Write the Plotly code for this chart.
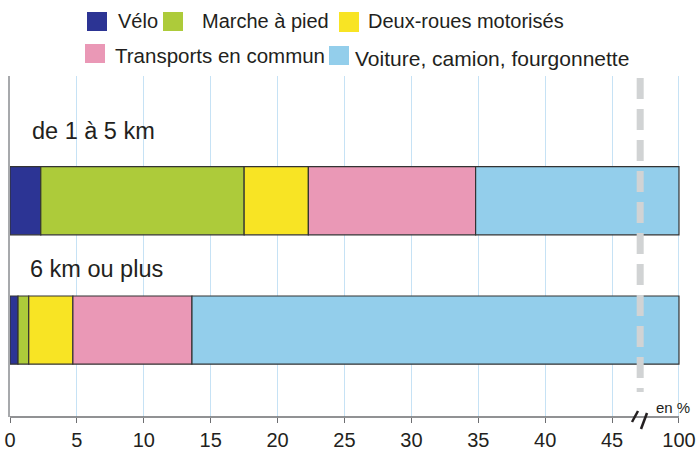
import plotly.graph_objects as go

# ---------------- data ----------------
categories = ["de 1 à 5 km", "6 km ou plus"]
modes = ["Vélo", "Marche à pied", "Deux-roues motorisés",
         "Transports en commun", "Voiture, camion, fourgonnette"]
velo = [2.3, 0.6]
marche = [15.2, 0.8]
deux_roues = [4.8, 3.3]
transports = [12.5, 8.9]
voiture = [65.2, 86.4]
tick_values = [0, 5, 10, 15, 20, 25, 30, 35, 40, 45, 100]
tick_labels = ["0", "5", "10", "15", "20", "25", "30", "35", "40", "45", "100"]

series = [velo, marche, deux_roues, transports, voiture]
colors = ["#2c3494", "#adcb3a", "#f8e424", "#ea98b6", "#93ceeb"]
row_pos = [1, 0]

# broken axis: linear up to BREAK, compressed beyond
BREAK = 47.5
def disp(v):
    return v if v <= BREAK else BREAK + (v - BREAK) * (2.5 / (100 - BREAK))

W, H = 697, 450
ML, MR, MT, MB = 10, 14, 76, 33
PW, PH = W - ML - MR, H - MT - MB
def px(x):
    return (x - ML) / PW
def py(y):
    return (H - MB - y) / PH

FONT = "Liberation Sans, Arial, Helvetica, sans-serif"
TXT = "#231f20"

fig = go.Figure()
cum = [0.0, 0.0]
for name, vals, col in zip(modes, series, colors):
    start = [disp(c) for c in cum]
    end = [disp(c + v) for c, v in zip(cum, vals)]
    fig.add_trace(go.Bar(
        y=row_pos, x=[e - s for s, e in zip(start, end)], base=start,
        orientation="h", name=name, width=0.527, showlegend=False,
        customdata=vals, hovertemplate=name + ": %{customdata} %<extra></extra>",
        marker=dict(color=col, line=dict(color="#333333", width=1.2)),
    ))
    cum = [c + v for c, v in zip(cum, vals)]

shapes = []
annotations = []

# x axis line (ends at the 100 tick)
shapes.append(dict(type="line", xref="x", yref="paper", x0=0, x1=disp(100),
                   y0=0, y1=0, line=dict(color="#6d6e71", width=1.5), layer="above"))
# dashed break line
shapes.append(dict(type="line", xref="x", yref="paper", x0=47.1, x1=47.1,
                   y0=py(78), y1=py(392),
                   line=dict(color="#d1d3d4", width=7, dash="21px,10px"), layer="above"))
# break marks
for (x0, y0, x1, y1) in [(632, 422, 638, 411), (641, 429, 647, 413)]:
    shapes.append(dict(type="line", xref="paper", yref="paper",
                       x0=px(x0), y0=py(y0), x1=px(x1), y1=py(y1),
                       line=dict(color="#231f20", width=2.5)))

# manual legend
legend_items = [
    # (square x0, y0, x1, y1, text x, text y, size)
    (87, 12, 107, 31, 116, 21, 20),
    (163, 12, 183, 31, 200, 21, 20),
    (339, 12, 359, 32, 366, 21, 20),
    (85, 44, 105, 63, 113, 55, 20.5),
    (329, 46, 349, 65, 353, 58, 21),
]
for name, col, (sx0, sy0, sx1, sy1, tx, ty, fs) in zip(modes, colors, legend_items):
    shapes.append(dict(type="rect", xref="paper", yref="paper",
                       x0=px(sx0), x1=px(sx1), y0=py(sy1), y1=py(sy0),
                       fillcolor=col, line=dict(width=0)))
    annotations.append(dict(xref="paper", yref="paper", x=px(tx), y=py(ty),
                            xanchor="left", yanchor="middle", showarrow=False,
                            text=name, font=dict(family=FONT, size=fs, color=TXT)))

# category labels
for cat, (tx, ty) in zip(categories, [(30, 131), (28, 268.5)]):
    annotations.append(dict(xref="paper", yref="paper", x=px(tx), y=py(ty),
                            xanchor="left", yanchor="middle", showarrow=False,
                            text=cat, font=dict(family=FONT, size=23.5, color=TXT)))

annotations.append(dict(xref="paper", yref="paper", x=px(654), y=py(407),
                        xanchor="left", yanchor="middle", showarrow=False,
                        text="en %", font=dict(family=FONT, size=15, color=TXT)))

fig.update_layout(
    width=W, height=H, margin=dict(l=ML, r=MR, t=MT, b=MB, autoexpand=False),
    paper_bgcolor="white", plot_bgcolor="white",
    barmode="overlay", showlegend=False,
    shapes=shapes, annotations=annotations,
    xaxis=dict(range=[0, 50.3], tickvals=[disp(v) for v in tick_values],
               ticktext=tick_labels, showgrid=True, gridcolor="#c6e2f5",
               gridwidth=1, zeroline=False, showline=False, automargin=False,
               ticks="outside", ticklen=5, tickwidth=1.3, tickcolor="#6d6e71",
               tickfont=dict(family=FONT, size=20, color=TXT)),
    yaxis=dict(range=[-0.672, 1.964], showticklabels=False, showgrid=False,
               zeroline=False, showline=True, linecolor="#a7a9ac", linewidth=1.5,
               ticks="", automargin=False),
)

fig.write_html("out.html", config={"displayModeBar": False},
               post_script="document.body.style.margin='0';")
